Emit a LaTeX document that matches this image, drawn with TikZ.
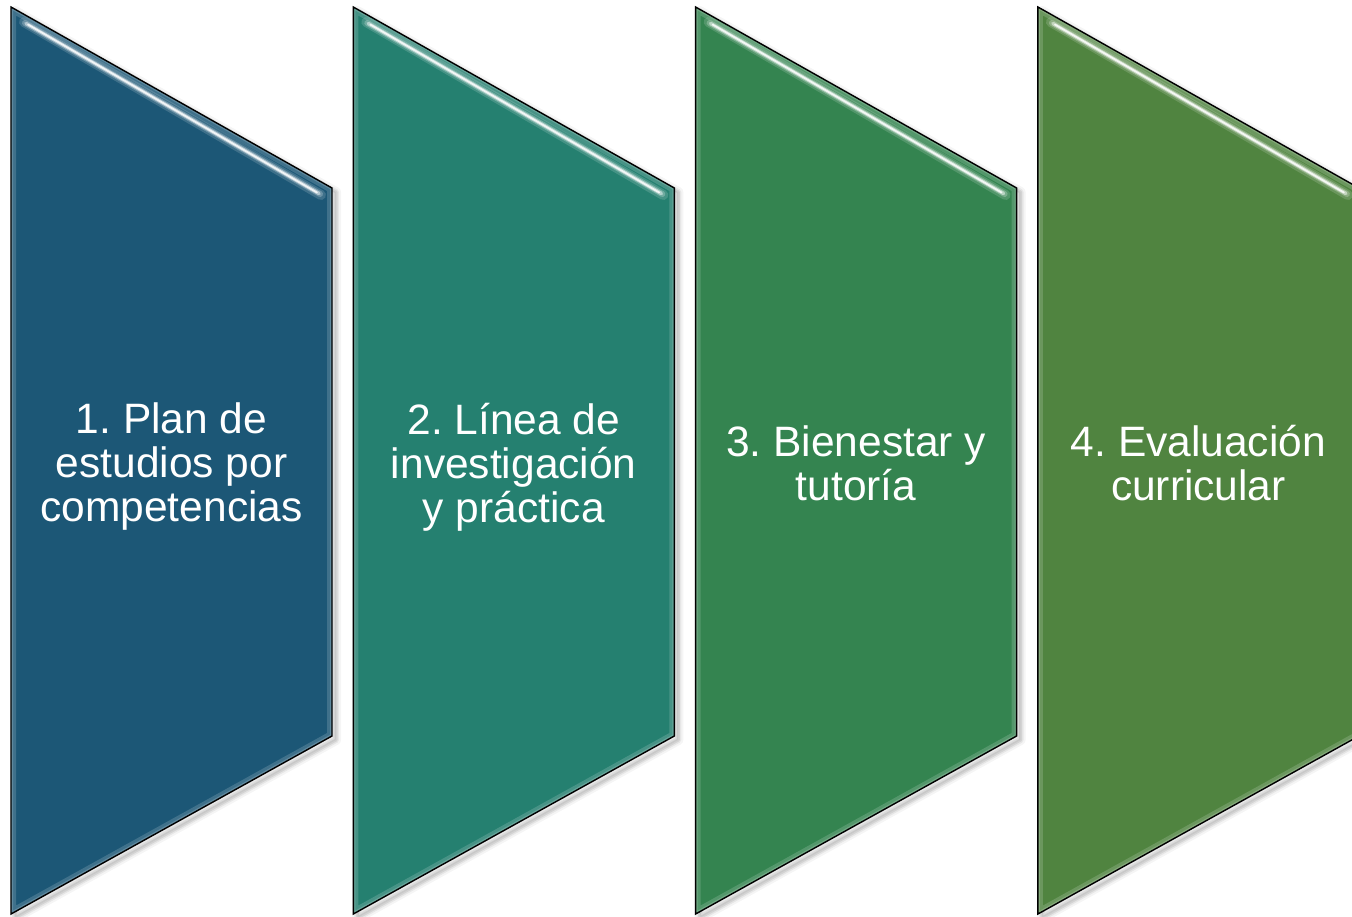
\documentclass[tikz,border=0pt]{standalone}
\usepackage{fontspec}
\setmainfont{Liberation Sans}
\frenchspacing
\definecolor{cA}{RGB}{28,87,118}
\definecolor{cB}{RGB}{37,128,112}
\definecolor{cC}{RGB}{52,132,80}
\definecolor{cD}{RGB}{80,132,64}
\tikzset{
  paneltext/.style={text=white, align=center, inner sep=0pt, font=\fontsize{42.5}{44}\selectfont},
  paneledge/.style={draw=black, line width=1.4pt, line join=miter},
  glowline/.style={line cap=round},
}
\newcommand\panelpath{(0,7) -- (321,188) -- (321,736) -- (0,914) -- cycle}
\newcommand\mypanel[5]{%
  \begin{scope}[shift={(#1,0)}]
    % soft drop shadow
    \begin{scope}[shift={(4,4)}]
      \fill[black,opacity=0.05,line join=round] \panelpath;
      \draw[black,opacity=0.04,line width=10pt,line join=round] \panelpath;
      \draw[black,opacity=0.06,line width=6pt,line join=round] \panelpath;
      \draw[black,opacity=0.08,line width=3pt,line join=round] \panelpath;
    \end{scope}
    \fill[#2] \panelpath;
    % bevel / inner glow
    \begin{scope}
      \clip \panelpath;
      \draw[#2!55!white,opacity=0.35,line width=10pt] \panelpath;
      \draw[#2!45!white,opacity=0.35,line width=4pt] \panelpath;
      \draw[glowline,#2!40!white,opacity=0.25,line width=10pt] (13,22) -- (310,195);
      \draw[glowline,#2!35!white,opacity=0.4,line width=6pt] (14,23) -- (309,194);
      \draw[glowline,#2!25!white,opacity=0.8,line width=3.6pt] (15,23.5) -- (308,193.5);
      \draw[glowline,#2!6!white,line width=1.8pt] (17,24.5) -- (306,192.5);
    \end{scope}
    \draw[paneledge] \panelpath;
    \node[paneltext] (#3) at (160.5,#5) {#4};
  \end{scope}%
}
\begin{document}
\begin{tikzpicture}[x=1pt,y=-1pt]
  \useasboundingbox (0,0) rectangle (1352,916);
  \clip (0,0) rectangle (1352,916);
  \fill[white] (0,0) rectangle (1352,916);
  \mypanel{11}{cA}{p1}{1. Plan de\\estudios por\\competencias}{467}
  \mypanel{353.3}{cB}{p2}{2. Línea de\\investigación\\y práctica}{467}
  \mypanel{695.6}{cC}{p3}{3. Bienestar y\\tutoría}{463}
  \mypanel{1037.9}{cD}{p4}{4. Evaluación\\curricular}{463}
\end{tikzpicture}
\end{document}
